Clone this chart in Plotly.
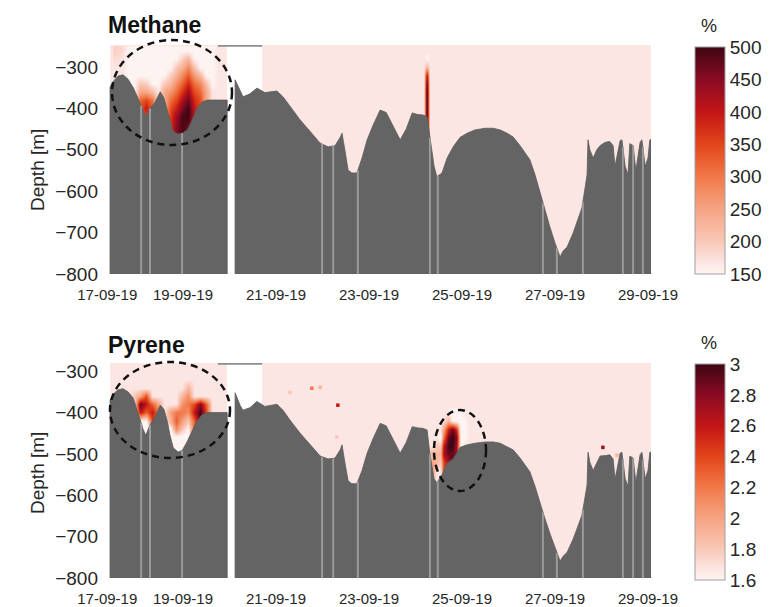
import plotly.graph_objects as go
import numpy as np

FONT = "Liberation Sans, Arial, Helvetica, sans-serif"
TXT = "#262626"

# ---------------- axes / ticks (time in days after 17-09-19 00:00) ----------------
tick_days = [0.37, 2, 4, 6, 8, 10, 12]
tick_text = ["17-09-19", "19-09-19", "21-09-19", "23-09-19", "25-09-19", "27-09-19", "29-09-19"]
depth_ticks = [-800, -700, -600, -500, -400, -300]
methane_ticks = [150, 200, 250, 300, 350, 400, 450, 500]
pyrene_ticks = [1.6, 1.8, 2.0, 2.2, 2.4, 2.6, 2.8, 3.0]
pyrene_ticktext = ["1.6", "1.8", "2", "2.2", "2.4", "2.6", "2.8", "3"]

# ---------------- lower limit of sampled water column (seafloor) ----------------
floor_t = [0.43, 0.50, 0.60, 0.71, 0.82, 0.93, 1.03, 1.14, 1.20, 1.29, 1.40, 1.51, 1.59, 1.66,
           1.72, 1.79, 1.89, 1.98, 2.09, 2.19, 2.30, 2.41, 2.52, 2.69, 2.95, None,
           3.12, 3.23, 3.29, 3.44, 3.59, 3.76, 3.91, 4.02, 4.15, 4.30, 4.52, 4.73, 4.95, 5.12,
           5.27, 5.38, 5.42, 5.48, 5.55, 5.63, 5.74, 5.85, 5.96, 6.09, 6.24, 6.37, 6.50, 6.67,
           6.80, 6.93, 7.05, 7.16, 7.25, 7.31, 7.40, 7.46, 7.57, 7.68, 7.81, 7.96, 8.11, 8.28,
           8.50, 8.67, 8.82, 8.97, 9.10, 9.25, 9.35, 9.46, 9.57, 9.68, 9.78, 9.89, 10.00, 10.11,
           10.17, 10.26, 10.39, 10.49, 10.58, 10.65, 10.69, 10.71, 10.75, 10.82, 10.90, 10.97,
           11.08, 11.18, 11.25, 11.29, 11.33, 11.40, 11.44, 11.51, 11.57, 11.61, 11.68, 11.74,
           11.83, 11.87, 11.94, 12.00, 12.04, 12.065]
methane_floor = [-348, -335, -322, -319, -330, -350, -375, -404, -420, -400, -385, -360, -375, -404,
                 -430, -455, -462, -460, -452, -430, -400, -385, -380, -380, -380, None,
                 -331, -360, -372, -365, -351, -362, -360, -358, -372, -395, -428, -455, -484, -493,
                 -490, -470, -460, -500, -549, -556, -556, -520, -476, -440, -404, -410, -440, -476,
                 -450, -411, -415, -416, -420, -470, -540, -565, -556, -520, -493, -470, -460, -452,
                 -448, -448, -452, -460, -469, -490, -505, -524, -560, -605, -645, -686, -725, -759,
                 -745, -735, -701, -670, -640, -590, -560, -476, -500, -520, -500, -490,
                 -482, -480, -490, -540, -520, -478, -476, -540, -560, -485, -490, -550,
                 -482, -476, -540, -520, -476, -476]
pyrene_floor = [-370, -355, -345, -342, -350, -365, -400, -440, -455, -430, -410, -382, -392, -420,
                -455, -485, -495, -492, -470, -445, -420, -405, -400, -400, -400, None,
                -352, -383, -394, -388, -373, -385, -382, -380, -394, -418, -450, -476, -505, -512,
                -510, -490, -478, -520, -565, -572, -572, -540, -498, -462, -426, -432, -462, -498,
                -472, -434, -437, -438, -442, -500, -560, -570, -550, -522, -512, -484, -478, -474,
                -471, -471, -474, -482, -490, -510, -525, -543, -578, -620, -655, -692, -728, -759,
                -748, -738, -706, -676, -648, -602, -575, -496, -520, -540, -520, -505,
                -504, -502, -512, -560, -540, -498, -496, -560, -578, -505, -510, -568,
                -502, -496, -560, -540, -496, -496]

# light vertical stripes (interpolated bottom) and water-column data coverage
stripe_t = [1.10, 1.29, 1.98, 4.99, 5.23, 5.76, 7.31, 7.48, 9.74, 10.04, 10.60, 11.46, 11.68, 11.89]
water_edges = [0.43, 2.95, 3.70, 12.065]
water_present = [True, False, True]
nodata_bar_t = [2.75, 3.70]

# ---------------- Methane hotspots (%) ----------------
B1, W1 = 167.5, 150
plume_t = [0.56, 0.69, 0.82, 0.95, 1.08, 1.20, 1.33, 1.46, 1.59, 1.72,
           1.85, 1.98, 2.11, 2.24, 2.37, 2.50, 2.62, 2.75, 2.88]
methane_plume_d = [-260, -280, -300, -320, -340, -360, -380, -400, -420, -440, -460, -480]
methane_plume_v = [
    [190, 180, W1, W1, W1, W1, W1, W1, W1, W1, W1, W1, W1, W1, W1, W1, W1, B1, B1],
    [180, 170, W1, W1, W1, W1, W1, W1, W1, W1, W1, 190, 220, W1, W1, W1, W1, B1, B1],
    [B1, B1, W1, W1, W1, W1, W1, W1, W1, W1, 200, 230, 280, 210, W1, W1, W1, B1, B1],
    [B1, B1, W1, W1, W1, W1, W1, W1, W1, 190, 230, 280, 330, 260, 220, W1, W1, B1, B1],
    [B1, B1, W1, W1, 200, 190, W1, W1, 200, 220, 270, 320, 380, 310, 280, 210, W1, B1, B1],
    [B1, B1, W1, W1, 250, 250, 220, 170, 240, 270, 310, 370, 430, 350, 320, 240, 170, B1, B1],
    [B1, B1, W1, W1, 320, 350, 310, 170, 240, 310, 350, 420, 470, 380, 340, 240, 170, B1, B1],
    [B1, B1, W1, W1, 330, 400, 320, 170, 240, 340, 390, 460, 500, 400, 340, 240, 170, B1, B1],
    [B1, B1, W1, W1, 330, 330, 320, 170, 240, 360, 430, 490, 500, 400, 340, 240, 170, B1, B1],
    [B1, B1, W1, W1, 330, 330, 320, 170, 240, 360, 450, 490, 470, 400, 340, 240, 170, B1, B1],
    [B1, B1, W1, W1, 330, 330, 320, 170, 240, 360, 450, 490, 470, 400, 340, 240, 170, B1, B1],
    [B1, B1, W1, W1, 330, 330, 320, 170, 240, 360, 450, 490, 470, 400, 340, 240, 170, B1, B1],
]
spike_t = [7.12, 7.18, 7.25, 7.31, 7.38]
spike_d = [-280, -300, -320, -340, -360, -380, -400, -420, -440, -460]
spike_v = [
    [B1, B1, W1, B1, B1],
    [B1, B1, 220, B1, B1],
    [B1, B1, 420, B1, B1],
    [B1, B1, 480, B1, B1],
    [B1, B1, 500, B1, B1],
    [B1, B1, 500, B1, B1],
    [B1, B1, 500, B1, B1],
    [B1, B1, 500, B1, B1],
    [B1, B1, 480, B1, B1],
    [B1, B1, 450, B1, B1],
]

# ---------------- Pyrene hotspots (%) ----------------
B2, W2 = 1.67, 1.55
pyrene_plume_d = [-300, -320, -340, -360, -380, -400, -420, -440, -460, -480, -500]
pyrene_plume_v = [
    [B2] * 19,
    [B2] * 19,
    [B2, B2, B2, B2, B2, B2, B2, B2, B2, B2, B2, B2, 1.9, B2, B2, B2, B2, B2, B2],
    [B2, B2, B2, 1.8, 2.0, 2.4, B2, B2, B2, B2, B2, 1.9, 2.1, B2, B2, B2, B2, B2, B2],
    [B2, B2, B2, B2, 2.9, 2.6, 2.3, 2.0, B2, B2, B2, 2.1, 2.2, 2.4, 2.8, 2.3, B2, B2, B2],
    [B2, B2, B2, B2, 2.6, 2.3, 2.6, 2.2, B2, 2.0, 2.2, 2.2, 2.1, 2.6, 3.0, 2.4, B2, B2, B2],
    [B2, B2, B2, B2, W2, W2, 2.4, 2.2, B2, 1.9, 2.3, 2.0, 1.8, 2.3, 2.9, 2.4, B2, B2, B2],
    [B2, B2, B2, B2, W2, W2, W2, 2.2, B2, W2, 2.1, 1.8, 1.6, 2.3, 2.9, 2.4, B2, B2, B2],
    [B2, B2, B2, B2, W2, W2, W2, W2, B2, W2, W2, W2, W2, 2.3, 2.9, 2.4, B2, B2, B2],
    [B2, B2, B2, B2, W2, W2, W2, W2, B2, W2, W2, W2, W2, 2.3, 2.9, 2.4, B2, B2, B2],
    [B2, B2, B2, B2, W2, W2, W2, W2, B2, W2, W2, W2, W2, 2.3, 2.9, 2.4, B2, B2, B2],
]
pyr2_t = [7.36, 7.44, 7.53, 7.61, 7.70, 7.79, 7.87, 7.96, 8.04, 8.13]
pyr2_d = [-400, -420, -440, -460, -480, -500, -520, -540, -560]
pyr2_v = [
    [B2, B2, B2, B2, B2, W2, W2, W2, B2, B2],
    [B2, B2, B2, B2, 1.9, W2, W2, W2, W2, B2],
    [B2, B2, B2, 2.0, 2.6, 2.9, 2.5, W2, W2, B2],
    [B2, B2, W2, 2.2, 2.9, 3.0, 2.8, W2, W2, B2],
    [B2, 1.8, 1.8, 2.6, 3.0, 3.0, 2.7, W2, B2, B2],
    [1.9, 1.9, 1.9, 2.7, 2.9, 2.9, 2.7, W2, B2, B2],
    [2.0, 1.9, 1.8, 2.4, 2.7, 2.9, 2.7, B2, B2, B2],
    [2.0, B2, B2, 2.4, 2.7, 2.9, 2.7, B2, B2, B2],
    [1.9, B2, B2, B2, B2, B2, B2, B2, B2, B2],
]
pyr_spot_t = [4.30, 4.77, 4.95, 5.33, 5.31, 11.03, 11.33]
pyr_spot_d = [-351, -341, -339, -382, -459, -484, -503]
pyr_spot_v = [1.8, 2.2, 1.9, 2.6, 1.8, 2.7, 1.9]

# ---------------- colours ----------------
colorscale = [[0.0, "#fdf4f2"], [0.05, "#fce6e3"], [0.15, "#f9c6b4"], [0.30, "#f5a07e"],
              [0.43, "#f17848"], [0.57, "#e3461a"], [0.71, "#c41616"], [0.86, "#880b24"],
              [1.0, "#3e0611"]]
FLOOR = "#646464"
STRIPE = "#9a9a9a"


def floor_polygon(t, d, bottom=-800):
    xs, ys, st, sd = [], [], [], []
    for ti, di in zip(list(t) + [None], list(d) + [None]):
        if ti is None:
            if st:
                xs += st + [st[-1], st[0], st[0], None]
                ys += sd + [bottom, bottom, sd[0], None]
            st, sd = [], []
        else:
            st.append(ti)
            sd.append(di)
    return xs, ys


def stripes(t_list, ft, fd, bottom=-800):
    vt = [a for a, b in zip(ft, fd) if a is not None]
    vd = [b for a, b in zip(ft, fd) if a is not None]
    xs, ys = [], []
    for s in t_list:
        top = float(np.interp(s, vt, vd))
        xs += [s, s, None]
        ys += [bottom, top, None]
    return xs, ys


fig = go.Figure()

panels = [
    dict(xa="x", ya="y", ca="coloraxis", floor=methane_floor, bg=B1, top=-247,
         patches=[(plume_t, methane_plume_d, methane_plume_v), (spike_t, spike_d, spike_v)]),
    dict(xa="x2", ya="y2", ca="coloraxis2", floor=pyrene_floor, bg=B2, top=-280,
         patches=[(plume_t, pyrene_plume_d, pyrene_plume_v), (pyr2_t, pyr2_d, pyr2_v)]),
]

for p in panels:
    zrow = [p["bg"] if w else None for w in water_present]
    fig.add_trace(go.Heatmap(x=water_edges, y=[-800, p["top"] + 10], z=[zrow],
                             coloraxis=p["ca"], xaxis=p["xa"], yaxis=p["ya"], hoverinfo="skip"))
    for (pt, pd_, pv) in p["patches"]:
        fig.add_trace(go.Heatmap(x=pt, y=pd_[::-1], z=pv[::-1], zsmooth="best",
                                 coloraxis=p["ca"], xaxis=p["xa"], yaxis=p["ya"], hoverinfo="skip"))
    if p["ca"] == "coloraxis2":
        fig.add_trace(go.Scatter(x=pyr_spot_t, y=pyr_spot_d, mode="markers",
                                 marker=dict(color=pyr_spot_v, coloraxis="coloraxis2", size=3.5,
                                             symbol="square", line=dict(width=0)),
                                 xaxis=p["xa"], yaxis=p["ya"], hoverinfo="skip"))
    px_, py_ = floor_polygon(floor_t, p["floor"])
    fig.add_trace(go.Scatter(x=px_, y=py_, fill="toself", fillcolor=FLOOR, mode="lines",
                             line=dict(color="#5c5c5c", width=0.8),
                             xaxis=p["xa"], yaxis=p["ya"], hoverinfo="skip"))
    sx, sy = stripes(stripe_t, floor_t, p["floor"])
    fig.add_trace(go.Scatter(x=sx, y=sy, mode="lines", line=dict(color=STRIPE, width=2),
                             xaxis=p["xa"], yaxis=p["ya"], hoverinfo="skip"))
    fig.add_trace(go.Scatter(x=nodata_bar_t, y=[p["top"] - 2, p["top"] - 2], mode="lines",
                             line=dict(color="#8c8c8c", width=2),
                             xaxis=p["xa"], yaxis=p["ya"], hoverinfo="skip"))

W, H = 774, 607
xdom = [107 / W, 651 / W]
common_x = dict(domain=xdom, range=[0.365, 12.065], tickvals=tick_days, ticktext=tick_text,
                showgrid=False, zeroline=False, showline=False, ticks="", automargin=False,
                tickfont=dict(family=FONT, size=15, color=TXT), ticklabelstandoff=10)
common_y = dict(range=[-800, -247], tickvals=depth_ticks, showgrid=False, zeroline=False,
                showline=False, ticks="", automargin=False,
                tickfont=dict(family=FONT, size=19, color=TXT), ticklabelstandoff=8)


def cbar(y0px, y1px, tickvals, ticktext=None):
    d = dict(x=695 / W, xanchor="left", xpad=0, ypad=0, y=1 - y1px / H, yanchor="bottom",
             len=(y1px - y0px) / H, lenmode="fraction", thickness=30, thicknessmode="pixels",
             tickvals=tickvals, ticks="", outlinecolor="#a0a0a0", outlinewidth=1,
             tickfont=dict(family=FONT, size=19, color=TXT))
    if ticktext:
        d["ticktext"] = ticktext
    return d


fig.update_layout(
    width=W, height=H, margin=dict(l=0, r=0, t=0, b=0, pad=0, autoexpand=False),
    paper_bgcolor="white", plot_bgcolor="white", showlegend=False,
    xaxis=dict(common_x, anchor="y"),
    yaxis=dict(common_y, domain=[1 - 274 / H, 1 - 45 / H], anchor="x"),
    xaxis2=dict(common_x, anchor="y2"),
    yaxis2=dict(common_y, domain=[1 - 578 / H, 1 - 363 / H], anchor="x2", range=[-800, -280]),
    coloraxis=dict(cmin=150, cmax=500, colorscale=colorscale,
                   colorbar=cbar(47, 274, methane_ticks)),
    coloraxis2=dict(cmin=1.6, cmax=3.0, colorscale=colorscale,
                    colorbar=cbar(364, 580, pyrene_ticks, pyrene_ticktext)),
)

ann = []
for txt, xpx, ypx in [("<b>Methane</b>", 106, 25), ("<b>Pyrene</b>", 106, 345)]:
    ann.append(dict(text=txt, x=xpx / W, y=1 - ypx / H, xref="paper", yref="paper",
                    xanchor="left", yanchor="middle", showarrow=False,
                    font=dict(family=FONT, size=23, color="#111111")))
for ypx in [26, 343]:
    ann.append(dict(text="%", x=709 / W, y=1 - ypx / H, xref="paper", yref="paper",
                    xanchor="center", yanchor="middle", showarrow=False,
                    font=dict(family=FONT, size=18, color=TXT)))
for ypx in [170, 473]:
    ann.append(dict(text="Depth [m]", x=37 / W, y=1 - ypx / H, xref="paper", yref="paper",
                    xanchor="center", yanchor="middle", textangle=-90, showarrow=False,
                    font=dict(family=FONT, size=19, color=TXT)))
fig.update_layout(annotations=ann)

shapes = []
for (x0, x1, y0, y1) in [(112, 232, 40, 145), (110, 230, 362, 458), (434, 486, 410, 491)]:
    shapes.append(dict(type="circle", xref="paper", yref="paper",
                       x0=x0 / W, x1=x1 / W, y0=1 - y1 / H, y1=1 - y0 / H,
                       line=dict(color="#111111", width=2.5, dash="7px,5px")))
fig.update_layout(shapes=shapes)

fig.write_html("out.html")
